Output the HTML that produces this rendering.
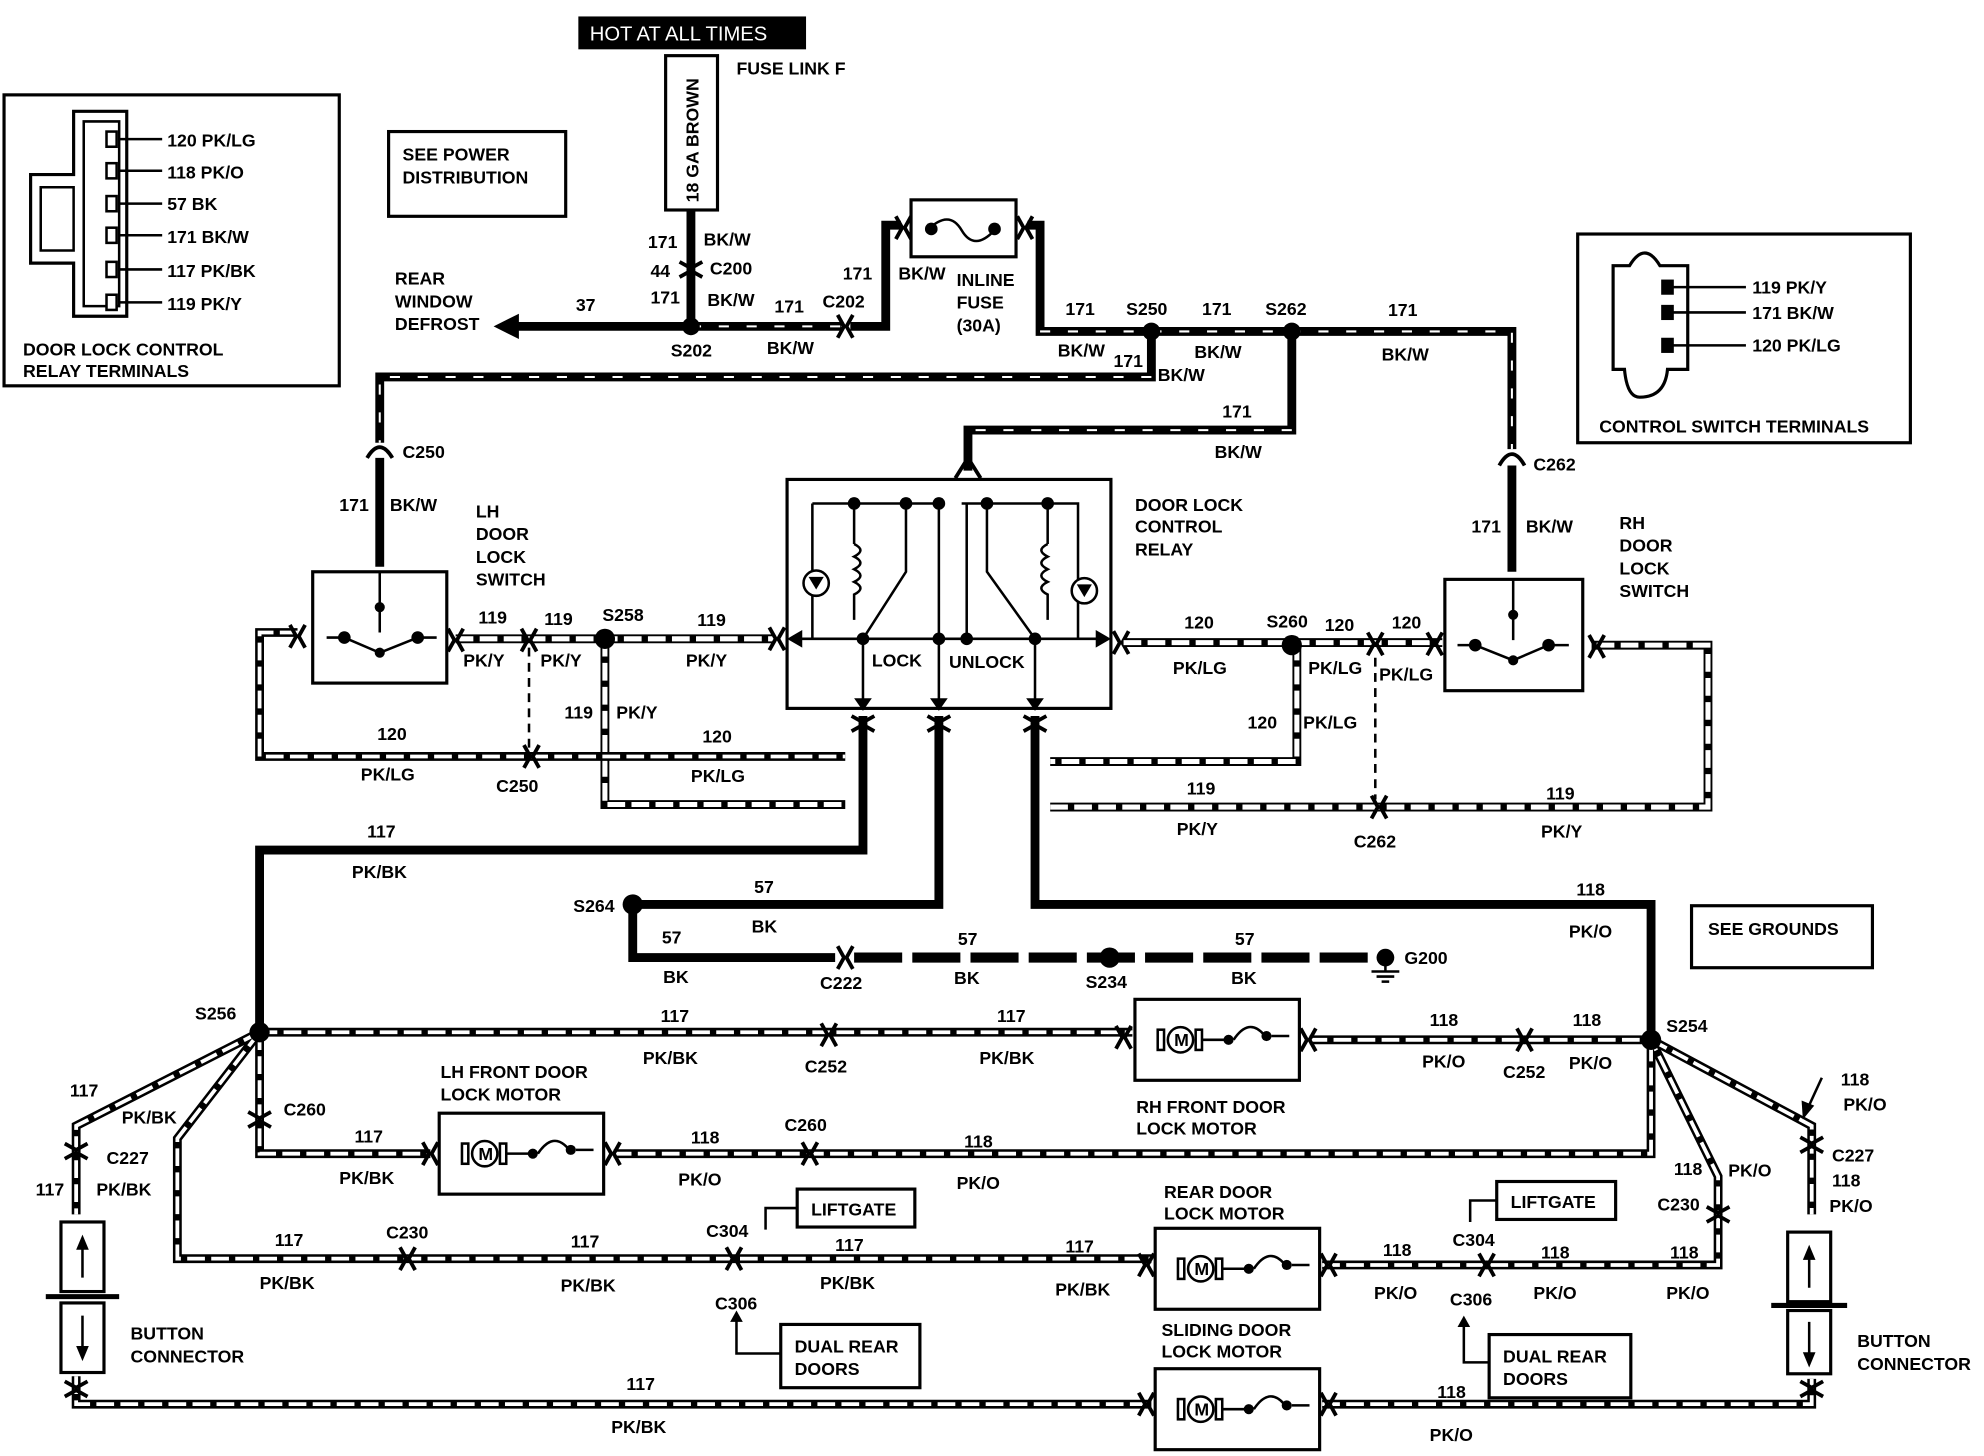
<!DOCTYPE html>
<html><head><meta charset="utf-8"><style>
html,body{margin:0;padding:0;background:#fff;}
svg{display:block}
text{font-family:"Liberation Sans",sans-serif;font-weight:bold;font-size:14px;fill:#000}
.w{fill:none;stroke:#000;stroke-linejoin:miter}
.thk{stroke-width:7}
.bkw{fill:none;stroke:#fff;stroke-width:1.6;stroke-dasharray:8 14}
.str{fill:none;stroke:#000;stroke-width:7}
.stri{fill:none;stroke:#fff;stroke-width:4;stroke-dasharray:14 5}
.bx{fill:#fff;stroke:#000;stroke-width:2.5}
.dot{fill:#000}
.cn{fill:none;stroke:#000;stroke-width:3}
</style></head><body>
<svg width="1984" height="1456" viewBox="0 0 1568 1151" xmlns="http://www.w3.org/2000/svg">
<rect width="1568" height="1151" fill="#fff"/>
<defs>
<g id="mot"><rect x="0" y="0" width="130" height="64" class="bx" stroke-width="3"/>
<circle cx="36" cy="32" r="10" fill="#fff" stroke="#000" stroke-width="2"/><text x="31" y="37" font-size="11">M</text>
<rect x="18" y="24" width="5" height="16" fill="#fff" stroke="#000" stroke-width="2"/><rect x="48" y="24" width="5" height="16" fill="#fff" stroke="#000" stroke-width="2"/>
<line x1="53" y1="32" x2="72" y2="32" stroke="#000" stroke-width="2"/><circle cx="74" cy="32" r="4"/><path d="M78 32 Q90 14 102 28" fill="none" stroke="#000" stroke-width="2"/><circle cx="104" cy="29" r="4"/><line x1="108" y1="29" x2="122" y2="29" stroke="#000" stroke-width="2"/></g>
<g id="ch"><path d="M-6 -9 L-1 0 L-6 9 M6 -9 L1 0 L6 9" class="cn"/></g>
<g id="cv"><path d="M-9 -6 L0 -1 L9 -6 M-9 6 L0 1 L9 6" class="cn"/></g>
</defs>

<!-- Top fuse link -->
<rect x="457" y="13" width="180" height="26" fill="#000"/>
<text x="466" y="32" fill="#fff" style="fill:#fff;font-weight:normal;font-size:16px">HOT AT ALL TIMES</text>
<rect x="526" y="44" width="41" height="122" class="bx" stroke-width="3"/>
<text transform="translate(552,160) rotate(-90)" font-size="14">18 GA BROWN</text>
<text x="582" y="59">FUSE LINK F</text>

<rect x="307" y="104" width="140" height="67" class="bx" stroke-width="1.5"/>
<text x="318" y="127">SEE POWER</text><text x="318" y="145">DISTRIBUTION</text>

<!-- relay terminals box -->
<rect x="3" y="75" width="265" height="230" class="bx" stroke-width="1.5"/>
<path d="M58 88 H100 V250 H58 V208 H24 V138 H58 Z" class="bx" stroke-width="3"/>
<path d="M66 96 H94 V242 H66 Z" fill="none" stroke="#000" stroke-width="2"/>
<path d="M32 148 H58 V198 H32 Z" fill="none" stroke="#000" stroke-width="2"/>
<g stroke="#000" stroke-width="2"><line x1="94" y1="110" x2="128" y2="110"/><line x1="94" y1="135" x2="128" y2="135"/><line x1="94" y1="161" x2="128" y2="161"/><line x1="94" y1="186" x2="128" y2="186"/><line x1="94" y1="213" x2="128" y2="213"/><line x1="94" y1="239" x2="128" y2="239"/></g>
<g fill="#fff" stroke="#000" stroke-width="2"><rect x="84" y="104" width="8" height="12"/><rect x="84" y="129" width="8" height="12"/><rect x="84" y="155" width="8" height="12"/><rect x="84" y="180" width="8" height="12"/><rect x="84" y="207" width="8" height="12"/><rect x="84" y="233" width="8" height="12"/></g>
<text x="132" y="116">120 PK/LG</text><text x="132" y="141">118 PK/O</text><text x="132" y="166">57 BK</text><text x="132" y="192">171 BK/W</text><text x="132" y="219">117 PK/BK</text><text x="132" y="245">119 PK/Y</text>
<text x="18" y="281">DOOR LOCK CONTROL</text><text x="18" y="298">RELAY TERMINALS</text>

<!-- control switch terminals -->
<rect x="1247" y="185" width="263" height="165" class="bx" stroke-width="1.5"/>
<path d="M1275 210 H1288 Q1300 190 1312 210 H1334 V292 H1318 Q1316 314 1296 314 Q1286 314 1284 292 H1275 Z" class="bx" stroke-width="3"/>
<g stroke="#000" stroke-width="2"><line x1="1320" y1="227" x2="1380" y2="227"/><line x1="1320" y1="247" x2="1380" y2="247"/><line x1="1320" y1="273" x2="1380" y2="273"/></g>
<rect x="1313" y="221" width="10" height="12"/><rect x="1313" y="241" width="10" height="12"/><rect x="1313" y="267" width="10" height="12"/>
<text x="1385" y="232">119 PK/Y</text><text x="1385" y="252">171 BK/W</text><text x="1385" y="278">120 PK/LG</text>
<text x="1264" y="342">CONTROL SWITCH TERMINALS</text>

<!-- 171 BK/W top feeds -->
<g class="w thk">
<path d="M546 166 V258"/>
<path d="M546 258 H405"/>
<path d="M546 258 H665"/>
<path d="M672 258 H700 V178 H712"/>
<path d="M812 178 H822 V262 H1195 V355"/>
<path d="M1195 368 V452"/>
<path d="M910 262 V298 H300 V350"/>
<path d="M300 362 V448"/>
<path d="M1021 262 V340 H765 V372"/>
</g>
<g class="bkw"><path d="M546 258 H665"/><path d="M822 262 H1195 V355"/><path d="M910 298 H300 V350"/><path d="M1021 340 H765"/></g>
<polygon points="390,258 410,248 410,268"/>
<use href="#ch" x="668" y="258"/><use href="#ch" x="714" y="180"/><use href="#ch" x="810" y="180"/>
<use href="#cv" x="546" y="213"/>
<rect x="720" y="158" width="83" height="45" class="bx"/>
<path d="M733 182 Q750 165 760 182 T786 182" fill="none" stroke="#000" stroke-width="2"/><circle cx="736" cy="181" r="5"/><circle cx="786" cy="181" r="5"/>
<circle cx="546" cy="258" r="7"/><circle cx="910" cy="262" r="7"/><circle cx="1021" cy="262" r="7"/>
<text x="512" y="196">171</text><text x="556" y="194">BK/W</text>
<text x="514" y="219">44</text><text x="561" y="217">C200</text>
<text x="514" y="240">171</text><text x="559" y="242">BK/W</text>
<text x="530" y="282">S202</text>
<text x="455" y="246">37</text>
<text x="312" y="225">REAR</text><text x="312" y="243">WINDOW</text><text x="312" y="261">DEFROST</text>
<text x="612" y="247">171</text><text x="650" y="243">C202</text><text x="606" y="280">BK/W</text>
<text x="666" y="221">171</text><text x="710" y="221">BK/W</text>
<text x="756" y="226">INLINE</text><text x="756" y="244">FUSE</text><text x="756" y="262">(30A)</text>
<text x="842" y="249">171</text><text x="890" y="249">S250</text><text x="950" y="249">171</text><text x="1000" y="249">S262</text><text x="1097" y="250">171</text>
<text x="836" y="282">BK/W</text><text x="944" y="283">BK/W</text><text x="1092" y="285">BK/W</text>
<text x="880" y="290">171</text><text x="915" y="301">BK/W</text>
<text x="966" y="330">171</text><text x="960" y="362">BK/W</text>
<text x="318" y="362">C250</text><text x="1212" y="372">C262</text>
<text x="268" y="404">171</text><text x="308" y="404">BK/W</text>
<text x="1163" y="421">171</text><text x="1206" y="421">BK/W</text>
<text x="376" y="409">LH</text><text x="376" y="427">DOOR</text><text x="376" y="445">LOCK</text><text x="376" y="463">SWITCH</text>
<text x="1280" y="418">RH</text><text x="1280" y="436">DOOR</text><text x="1280" y="454">LOCK</text><text x="1280" y="472">SWITCH</text>
<text x="897" y="404">DOOR LOCK</text><text x="897" y="421">CONTROL</text><text x="897" y="439">RELAY</text>
<g fill="none" stroke="#000" stroke-width="3"><path d="M290 362 Q300 345 310 362"/><path d="M1185 368 Q1195 350 1205 368"/><path d="M755 378 L765 362 L775 378"/></g>

<!-- switches -->
<rect x="247" y="452" width="106" height="88" class="bx"/>
<rect x="1142" y="458" width="109" height="88" class="bx"/>
<g stroke="#000" stroke-width="2" fill="none">
<path d="M300 452 V500 M258 504 H272 M330 504 H345 M272 504 L300 516 L330 504"/>
<path d="M1196 458 V506 M1152 510 H1166 M1224 510 H1240 M1166 510 L1196 522 L1224 510"/>
</g>
<circle cx="272" cy="504" r="5"/><circle cx="330" cy="504" r="5"/><circle cx="300" cy="480" r="4"/><circle cx="300" cy="516" r="4"/>
<circle cx="1166" cy="510" r="5"/><circle cx="1224" cy="510" r="5"/><circle cx="1196" cy="486" r="4"/><circle cx="1196" cy="522" r="4"/>

<!-- relay -->
<rect x="622" y="379" width="256" height="181" class="bx" stroke-width="3"/>
<g stroke="#000" stroke-width="2" fill="none">
<path d="M642 398 H742 M760 398 H852 V505 M642 398 V505 M675 398 V430 M716 398 V452 L682 505 M742 398 V560 M780 398 V452 L818 505 M828 398 V430 M764 398 V505 M630 505 H870 M682 505 V560 M818 505 V560"/>
<path d="M675 430 q10 5 0 10 q10 5 0 10 q10 5 0 10 q10 5 0 10 V490"/>
<path d="M828 430 q-10 5 0 10 q-10 5 0 10 q-10 5 0 10 q-10 5 0 10 V490"/>
</g>
<circle cx="645" cy="461" r="10" fill="#fff" stroke="#000" stroke-width="2"/><polygon points="639,456 651,456 645,466"/>
<circle cx="857" cy="467" r="10" fill="#fff" stroke="#000" stroke-width="2"/><polygon points="851,462 863,462 857,472"/>
<circle cx="675" cy="398" r="5"/><circle cx="716" cy="398" r="5"/><circle cx="742" cy="398" r="5"/><circle cx="780" cy="398" r="5"/><circle cx="828" cy="398" r="5"/>
<circle cx="682" cy="505" r="5"/><circle cx="742" cy="505" r="5"/><circle cx="764" cy="505" r="5"/><circle cx="818" cy="505" r="5"/>
<polygon points="622,505 634,498 634,512"/><polygon points="878,505 866,498 866,512"/>
<polygon points="675,552 689,552 682,562"/><polygon points="735,552 749,552 742,562"/><polygon points="811,552 825,552 818,562"/>
<text x="689" y="527">LOCK</text><text x="750" y="528">UNLOCK</text>

<!-- 119 PK/Y LH side -->
<g class="str"><path d="M360 505 H478 M478 505 H612"/><path d="M478 505 V636 H668"/></g>
<g class="stri"><path d="M360 505 H612"/><path d="M478 505 V636 H668"/></g>
<circle cx="478" cy="505" r="8"/>
<text x="378" y="493">119</text><text x="430" y="494">119</text><text x="476" y="491">S258</text><text x="551" y="495">119</text>
<text x="366" y="527">PK/Y</text><text x="427" y="527">PK/Y</text><text x="542" y="527">PK/Y</text>
<text x="446" y="568">119</text><text x="487" y="568">PK/Y</text>
<g class="str" stroke-width="6"><path d="M235 500 H205 V598 H668"/></g>
<g fill="none" stroke="#fff" stroke-width="3" stroke-dasharray="14 5"><path d="M235 500 H205 V598 H668"/></g>
<line x1="418" y1="512" x2="418" y2="595" stroke="#000" stroke-width="2" stroke-dasharray="7 5"/>
<text x="298" y="585">120</text><text x="285" y="617">PK/LG</text><text x="392" y="626">C250</text>
<text x="555" y="587">120</text><text x="546" y="618">PK/LG</text>
<use href="#ch" x="235" y="503"/><use href="#ch" x="360" y="506"/><use href="#ch" x="418" y="506"/><use href="#ch" x="420" y="598"/>
<use href="#ch" x="614" y="505"/><use href="#ch" x="886" y="508"/>

<!-- RH side -->
<g class="str"><path d="M888 508 H1140"/><path d="M1025 508 V602 H830"/><path d="M830 638 H1350 V510 H1258"/></g>
<g class="stri"><path d="M888 508 H1140"/><path d="M1025 508 V602 H830"/><path d="M830 638 H1350 V510 H1258"/></g>
<circle cx="1021" cy="510" r="8"/>
<line x1="1087" y1="520" x2="1087" y2="632" stroke="#000" stroke-width="2" stroke-dasharray="7 5"/>
<use href="#ch" x="1087" y="509"/><use href="#ch" x="1134" y="509"/><use href="#ch" x="1262" y="511"/><use href="#ch" x="1090" y="638"/>
<text x="936" y="497">120</text><text x="1001" y="496">S260</text><text x="1047" y="499">120</text><text x="1100" y="497">120</text>
<text x="927" y="533">PK/LG</text><text x="1034" y="533">PK/LG</text><text x="1090" y="538">PK/LG</text>
<text x="986" y="576">120</text><text x="1030" y="576">PK/LG</text>
<text x="938" y="628">119</text><text x="930" y="660">PK/Y</text><text x="1070" y="670">C262</text>
<text x="1222" y="632">119</text><text x="1218" y="662">PK/Y</text>

<!-- 117/57/118 thick -->
<g class="w thk"><path d="M682 566 V672 H205 V812"/><path d="M742 566 V715 H500 V757 H660"/><path d="M818 566 V715 H1305 V815"/></g>
<g class="w" stroke-width="8" stroke-dasharray="38 8"><path d="M675 757 H1085"/></g>
<use href="#cv" x="682" y="572"/><use href="#cv" x="742" y="572"/><use href="#cv" x="818" y="572"/>
<use href="#ch" x="668" y="757"/>
<circle cx="500" cy="715" r="8"/><circle cx="877" cy="757" r="8"/><circle cx="1095" cy="757" r="7"/>
<g stroke="#000" stroke-width="2"><line x1="1095" y1="757" x2="1095" y2="768"/><line x1="1084" y1="768" x2="1106" y2="768"/><line x1="1088" y1="772" x2="1102" y2="772"/><line x1="1092" y1="776" x2="1098" y2="776"/></g>
<text x="290" y="662">117</text><text x="278" y="694">PK/BK</text>
<text x="596" y="706">57</text><text x="594" y="737">BK</text><text x="453" y="721">S264</text>
<text x="523" y="746">57</text><text x="524" y="777">BK</text><text x="648" y="782">C222</text>
<text x="757" y="747">57</text><text x="754" y="778">BK</text><text x="858" y="781">S234</text>
<text x="976" y="747">57</text><text x="973" y="778">BK</text><text x="1110" y="762">G200</text>
<text x="1246" y="708">118</text><text x="1240" y="741">PK/O</text>
<rect x="1337" y="716" width="143" height="49" class="bx" stroke-width="1.5"/><text x="1350" y="739">SEE GROUNDS</text>

<!-- lower striped wires -->
<g class="str" stroke-width="6">
<path d="M205 816 H895"/><path d="M1035 822 H1305"/>
<path d="M205 816 V912 H340"/><path d="M485 912 H1305 V822"/>
<path d="M205 816 L60 890 V960"/><path d="M205 816 L140 900 V995 H910"/><path d="M1045 1000 H1358 V930 L1305 822"/>
<path d="M1305 822 L1432 890 V960"/>
<path d="M60 1088 V1110 H910"/><path d="M1045 1110 H1432 V1090"/>
</g>
<g fill="none" stroke="#fff" stroke-width="3" stroke-dasharray="14 5">
<path d="M205 816 H895"/><path d="M1035 822 H1305"/>
<path d="M205 816 V912 H340"/><path d="M485 912 H1305 V822"/>
<path d="M205 816 L60 890 V960"/><path d="M205 816 L140 900 V995 H910"/><path d="M1045 1000 H1358 V930 L1305 822"/>
<path d="M1305 822 L1432 890 V960"/>
<path d="M60 1088 V1110 H910"/><path d="M1045 1110 H1432 V1090"/>
</g>
<circle cx="205" cy="816" r="8"/><circle cx="1305" cy="822" r="8"/>
<use href="#mot" x="897" y="790"/>
<use href="#mot" x="347" y="880"/>
<use href="#mot" x="913" y="971"/>
<use href="#mot" x="913" y="1082"/>
<use href="#ch" x="655" y="818"/><use href="#ch" x="888" y="820"/><use href="#ch" x="1034" y="822"/><use href="#ch" x="1205" y="822"/>
<use href="#cv" x="205" y="885"/><use href="#ch" x="340" y="912"/><use href="#ch" x="484" y="912"/><use href="#ch" x="640" y="912"/>
<use href="#ch" x="322" y="995"/><use href="#ch" x="580" y="995"/><use href="#ch" x="906" y="1000"/><use href="#ch" x="1050" y="1000"/><use href="#ch" x="1175" y="1000"/>
<use href="#cv" x="1358" y="960"/><use href="#cv" x="60" y="910"/><use href="#cv" x="1432" y="905"/>
<use href="#ch" x="906" y="1110"/><use href="#ch" x="1050" y="1110"/>
<use href="#cv" x="60" y="1098"/><use href="#cv" x="1432" y="1098"/>
<text x="154" y="806">S256</text><text x="1317" y="816">S254</text>
<text x="522" y="808">117</text><text x="508" y="841">PK/BK</text><text x="636" y="848">C252</text>
<text x="788" y="808">117</text><text x="774" y="841">PK/BK</text>
<text x="1130" y="811">118</text><text x="1124" y="844">PK/O</text><text x="1243" y="811">118</text><text x="1240" y="845">PK/O</text><text x="1188" y="852">C252</text>
<text x="898" y="880">RH FRONT DOOR</text><text x="898" y="897">LOCK MOTOR</text>
<text x="348" y="852">LH FRONT DOOR</text><text x="348" y="870">LOCK MOTOR</text>
<text x="224" y="882">C260</text><text x="280" y="903">117</text><text x="268" y="936">PK/BK</text>
<text x="546" y="904">118</text><text x="536" y="937">PK/O</text><text x="620" y="894">C260</text>
<text x="762" y="907">118</text><text x="756" y="940">PK/O</text>
<text x="55" y="867">117</text><text x="96" y="888">PK/BK</text><text x="84" y="920">C227</text>
<text x="28" y="945">117</text><text x="76" y="945">PK/BK</text>
<text x="217" y="985">117</text><text x="205" y="1019">PK/BK</text><text x="305" y="979">C230</text>
<text x="451" y="986">117</text><text x="443" y="1021">PK/BK</text><text x="558" y="978">C304</text>
<text x="660" y="989">117</text><text x="648" y="1019">PK/BK</text>
<text x="842" y="990">117</text><text x="834" y="1024">PK/BK</text>
<text x="920" y="947">REAR DOOR</text><text x="920" y="964">LOCK MOTOR</text>
<text x="918" y="1056">SLIDING DOOR</text><text x="918" y="1073">LOCK MOTOR</text>
<text x="1093" y="993">118</text><text x="1086" y="1027">PK/O</text><text x="1148" y="985">C304</text><text x="1146" y="1032">C306</text>
<text x="1218" y="995">118</text><text x="1212" y="1027">PK/O</text><text x="1320" y="995">118</text><text x="1317" y="1027">PK/O</text>
<text x="1323" y="929">118</text><text x="1366" y="930">PK/O</text><text x="1310" y="957">C230</text>
<text x="1455" y="858">118</text><text x="1457" y="878">PK/O</text><text x="1448" y="918">C227</text><text x="1448" y="938">118</text><text x="1446" y="958">PK/O</text>
<line x1="1440" y1="852" x2="1428" y2="878" stroke="#000" stroke-width="2"/><polygon points="1425,885 1424,870 1434,874"/>
<text x="565" y="1035">C306</text>
<text x="495" y="1099">117</text><text x="483" y="1133">PK/BK</text>
<text x="1136" y="1105">118</text><text x="1130" y="1139">PK/O</text>
<rect x="630" y="940" width="93" height="30" class="bx" stroke-width="1.5"/><text x="641" y="961">LIFTGATE</text>
<path d="M630 955 H605 V972" fill="none" stroke="#000" stroke-width="2"/>
<rect x="1183" y="934" width="94" height="30" class="bx" stroke-width="1.5"/><text x="1194" y="955">LIFTGATE</text>
<path d="M1183 949 H1162 V966" fill="none" stroke="#000" stroke-width="2"/>
<rect x="617" y="1047" width="110" height="50" class="bx" stroke-width="1.5"/><text x="628" y="1069">DUAL REAR</text><text x="628" y="1087">DOORS</text>
<path d="M617 1070 H582 V1042" fill="none" stroke="#000" stroke-width="2"/><polygon points="577,1045 587,1045 582,1036"/>
<rect x="1177" y="1055" width="112" height="50" class="bx" stroke-width="1.5"/><text x="1188" y="1077">DUAL REAR</text><text x="1188" y="1095">DOORS</text>
<path d="M1177 1077 H1157 V1046" fill="none" stroke="#000" stroke-width="2"/><polygon points="1152,1049 1162,1049 1157,1040"/>
<rect x="48" y="966" width="34" height="55" class="bx" stroke-width="3"/>
<rect x="48" y="1030" width="34" height="55" class="bx" stroke-width="3"/>
<path d="M36 1025 H94" stroke="#000" stroke-width="4"/>
<path d="M65 1010 V982 M65 1040 V1070" stroke="#000" stroke-width="2"/><polygon points="60,988 70,988 65,976"/><polygon points="60,1064 70,1064 65,1076"/>
<text x="103" y="1059">BUTTON</text><text x="103" y="1077">CONNECTOR</text>
<rect x="1413" y="974" width="34" height="55" class="bx" stroke-width="3"/>
<rect x="1413" y="1036" width="34" height="50" class="bx" stroke-width="3"/>
<path d="M1400 1032 H1460" stroke="#000" stroke-width="4"/>
<path d="M1430 1018 V990 M1430 1045 V1075" stroke="#000" stroke-width="2"/><polygon points="1425,996 1435,996 1430,984"/><polygon points="1425,1069 1435,1069 1430,1081"/>
<text x="1468" y="1065">BUTTON</text><text x="1468" y="1083">CONNECTOR</text>
</svg>
</body></html>
